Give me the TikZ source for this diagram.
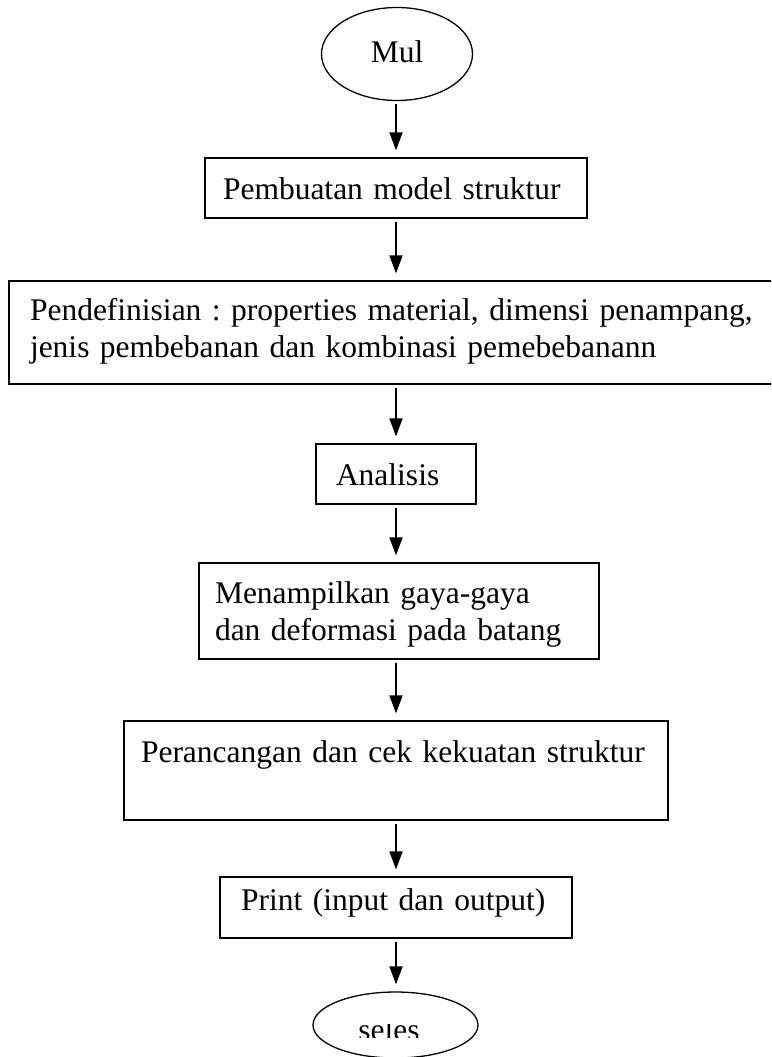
\documentclass[tikz,border=0pt]{standalone}
\usepackage{fontspec}
\setmainfont{Liberation Serif}
\usetikzlibrary{arrows.meta,shapes.geometric}
\frenchspacing
\begin{document}
\begin{tikzpicture}[x=1pt,y=-1pt,
  flowbox/.style={draw, line width=1.3pt, rectangle, inner ysep=0pt, align=left,
                  font=\fontsize{31.5}{37.5}\selectfont},
  oval/.style={draw, line width=1.3pt, ellipse, inner sep=0pt,
               font=\fontsize{31.5}{37.5}\selectfont},
  flow/.style={line width=1.8pt, -{Triangle[length=18pt,width=13pt]},
               shorten <=3pt, shorten >=7pt}]
  \useasboundingbox (0,0) rectangle (771,1057);
  \fill[white] (0,0) rectangle (771,1057);
  \clip (0,0) rectangle (771,1057);

  % vertical line the connectors run along
  \coordinate (spine) at (396,0);

  % start
  \node[oval, minimum width=151pt, minimum height=93pt, text height=22pt, text depth=4pt]
    (mul) at (397,54) {Mul};

  % process steps (each line kept whole, text flush left)
  \node[flowbox, text width=346pt, inner xsep=18pt, text height=24pt, text depth=2pt,
        minimum height=60pt] (pemb) at (396,188) {\mbox{Pembuatan model struktur}};

  \node[flowbox, text width=739pt, inner xsep=21pt, text height=25pt, text depth=50pt,
        minimum height=103pt] (def) at (399.5,332.5)
    {\mbox{Pendefinisian : properties material, dimensi penampang,}\\
     \mbox{jenis pembebanan dan kombinasi pemebebanann}};

  \node[flowbox, text width=120pt, inner xsep=20pt, text height=24pt, text depth=2pt,
        minimum height=60pt] (anl) at (396,474) {\mbox{Analisis}};

  \node[flowbox, text width=368pt, inner xsep=16pt, text height=25pt, text depth=41pt,
        minimum height=96pt] (tamp) at (399,611)
    {\mbox{Menampilkan gaya-gaya}\\ \mbox{dan deformasi pada batang}};

  \node[flowbox, text width=510pt, inner xsep=17pt, text height=25pt, text depth=42pt,
        minimum height=99pt] (ranc) at (396,770.5)
    {\mbox{Perancangan dan cek kekuatan struktur}};

  \node[flowbox, text width=310pt, inner xsep=21pt, text height=24pt, text depth=19pt,
        minimum height=61pt] (prn) at (396,907.5) {\mbox{Print (input dan output)}};

  % end
  \node[oval, minimum width=165pt, minimum height=66pt] (sel) at (395.5,1025) {};
  \begin{scope}
    \clip (0,1024.5) rectangle (771,1037.5);
    \node[font=\fontsize{31.5}{37.5}\selectfont, anchor=base, inner sep=0pt]
      (seltext) at (389,1040) {seles};
  \end{scope}

  % connectors
  \draw[flow] (spine |- mul.south)  -- (spine |- pemb.north);
  \draw[flow] (spine |- pemb.south) -- (spine |- def.north);
  \draw[flow] (spine |- def.south)  -- (spine |- anl.north);
  \draw[flow] (spine |- anl.south)  -- (spine |- tamp.north);
  \draw[flow] (spine |- tamp.south) -- (spine |- ranc.north);
  \draw[flow] (spine |- ranc.south) -- (spine |- prn.north);
  \draw[flow] (spine |- prn.south)  -- (spine |- sel.north);
\end{tikzpicture}
\end{document}
